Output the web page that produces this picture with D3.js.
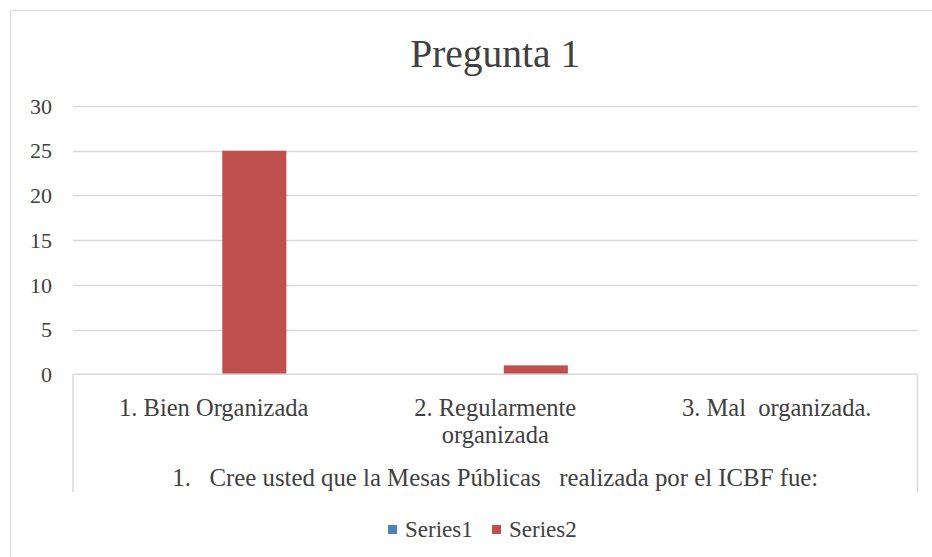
<!DOCTYPE html>
<html>
<head>
<meta charset="utf-8">
<script src="https://cdn.jsdelivr.net/npm/d3@7"></script>
<style>
  html, body { margin: 0; padding: 0; background: #fff; }
  svg { display: block; }
  text { font-family: "Liberation Serif", "Times New Roman", serif; fill: #404040; white-space: pre; }
</style>
</head>
<body>
<svg id="chart" width="932" height="557"></svg>
<script>
const title = "Pregunta 1";
const axisTitle = "1.   Cree usted que la Mesas Públicas   realizada por el ICBF fue:";
const categories = ["1. Bien Organizada", "2. Regularmente organizada", "3. Mal  organizada."];
const seriesNames = ["Series1", "Series2"];
const series1 = [null, null, null];
const series2 = [25, 1, 0];
const yTicks = [0, 5, 10, 15, 20, 25, 30];
const seriesColors = ["#4F81BD", "#C0504D"];

const svg = d3.select("#chart");
const m = { left: 73, right: 917.5, top: 106, bottom: 374.3 };

// outer chart border (extends past the right/bottom edges)
svg.append("rect")
  .attr("x", 10.5).attr("y", 10.5).attr("width", 940).attr("height", 560)
  .attr("fill", "#fff").attr("stroke", "#d9d9d9").attr("stroke-width", 1);

// title
svg.append("text")
  .attr("x", (m.left + m.right) / 2).attr("y", 67)
  .attr("text-anchor", "middle").style("font-size", "39.5px")
  .text(title);

const y = d3.scaleLinear().domain([0, 30]).range([m.bottom, m.top]);
const x0 = d3.scaleBand().domain(categories).range([m.left, m.right]).padding(0);
const x1 = d3.scaleBand().domain(seriesNames).range([0, x0.bandwidth()])
  .paddingInner(0.21).paddingOuter(0.84);

// gridlines
svg.append("g").selectAll("line").data(yTicks.filter(t => t > 0)).join("line")
  .attr("x1", m.left).attr("x2", m.right)
  .attr("y1", d => Math.round(y(d)) + 0.5).attr("y2", d => Math.round(y(d)) + 0.5)
  .attr("stroke", "#d9d9d9").attr("stroke-width", 1.5);

// y axis labels
const yAxis = d3.axisLeft(y).tickValues(yTicks).tickSize(0).tickPadding(0);
const gy = svg.append("g").attr("transform", `translate(52,0)`).call(yAxis);
gy.attr("font-family", null).attr("font-size", null);
gy.select(".domain").remove();
gy.selectAll("text")
  .style("font-size", "22px").style("font-family", "'Liberation Serif', serif")
  .attr("fill", "#404040").attr("dy", "0.33em");

// bars
const rows = categories.map((c, i) => ({ cat: c, vals: [series1[i], series2[i]] }));
const groups = svg.append("g").selectAll("g").data(rows).join("g")
  .attr("transform", d => `translate(${x0(d.cat)},0)`);
groups.selectAll("rect")
  .data(d => d.vals.map((v, j) => ({ name: seriesNames[j], v, j })).filter(e => e.v != null && e.v > 0))
  .join("rect")
  .attr("x", e => x1(e.name))
  .attr("width", x1.bandwidth())
  .attr("y", e => y(e.v))
  .attr("height", e => y(0) - y(e.v))
  .attr("fill", e => seriesColors[e.j]);

// category axis box: baseline + outer verticals
const boxBottom = 492;
svg.append("line").attr("x1", m.left).attr("x2", m.right)
  .attr("y1", m.bottom).attr("y2", m.bottom)
  .attr("stroke", "#d9d9d9").attr("stroke-width", 1.5);
[m.left, m.right].forEach(xx => {
  svg.append("line").attr("x1", xx).attr("x2", xx)
    .attr("y1", m.bottom).attr("y2", boxBottom)
    .attr("stroke", "#d9d9d9").attr("stroke-width", 1.5);
});

// category labels with wrapping
const labelSize = 24.5;
const catG = svg.append("g");
categories.forEach(c => {
  const cx = x0(c) + x0.bandwidth() / 2;
  const t = catG.append("text").attr("x", cx).attr("y", 416)
    .attr("text-anchor", "middle").style("font-size", labelSize + "px");
  const words = c.split(" ");
  let line = [], lines = [];
  const maxW = x0.bandwidth() * 0.8;
  const tmp = t.append("tspan");
  words.forEach(w => {
    const test = line.concat([w]).join(" ");
    tmp.text(test);
    if (tmp.node().getComputedTextLength() > maxW && line.length) {
      lines.push(line.join(" "));
      line = [w];
    } else line.push(w);
  });
  lines.push(line.join(" "));
  tmp.remove();
  lines.forEach((l, i) => {
    t.append("tspan").attr("x", cx).attr("dy", i === 0 ? 0 : 26.5).text(l);
  });
});

// axis title
svg.append("text")
  .attr("x", (m.left + m.right) / 2).attr("y", 486)
  .attr("text-anchor", "middle").style("font-size", "24.8px")
  .text(axisTitle);

// legend
const legend = svg.append("g");
const legendItems = [{ name: seriesNames[0], x: 388 }, { name: seriesNames[1], x: 492 }];
legendItems.forEach((it, i) => {
  legend.append("rect").attr("x", it.x).attr("y", 525).attr("width", 9).attr("height", 9)
    .attr("fill", seriesColors[i]);
  legend.append("text").attr("x", it.x + 17).attr("y", 537)
    .style("font-size", "23px").text(it.name);
});
</script>
</body>
</html>
